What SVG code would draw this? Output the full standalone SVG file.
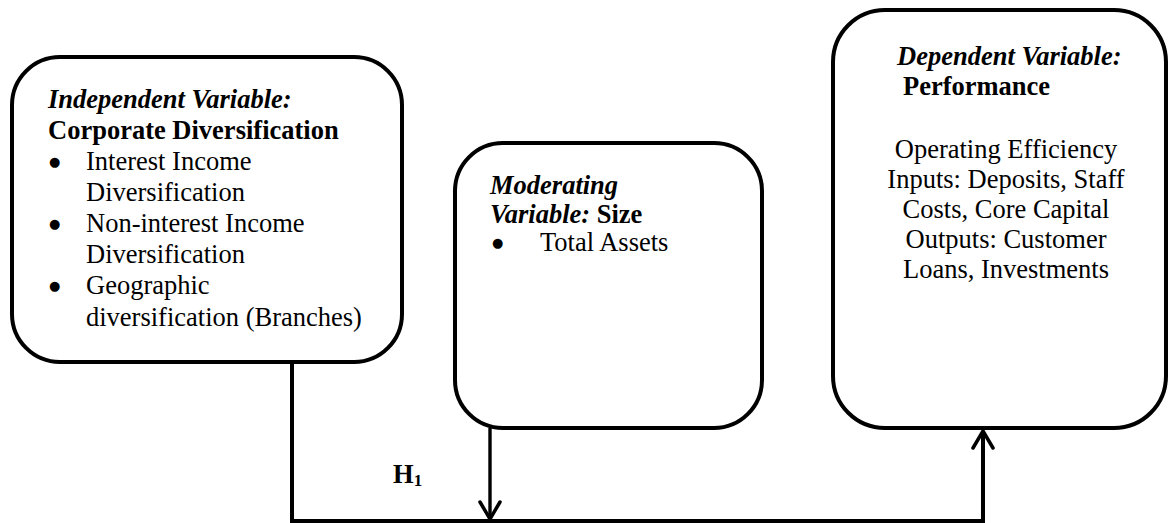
<svg xmlns="http://www.w3.org/2000/svg" width="1170" height="523" viewBox="0 0 1170 523">
<style>
.box{fill:#fff;stroke:#000;stroke-width:4}
.t{font-family:"Liberation Serif","Times New Roman",serif;font-size:26.5px;fill:#000}
.bi{font-weight:bold;font-style:italic}
.b{font-weight:bold}
.c{text-anchor:middle}
.bul{font-family:"DejaVu Sans",sans-serif;font-size:13px;fill:#000}
.con{fill:none;stroke:#000}
</style>
<defs>
<marker id="arr" viewBox="-20 -12 22 24" markerWidth="22" markerHeight="24" refX="0" refY="0" markerUnits="userSpaceOnUse" orient="auto">
<path d="M-17,-10 L0,0 L-17,10" fill="none" stroke="#000" stroke-width="3.5" stroke-linecap="round"/>
</marker>
</defs>
<rect width="1170" height="523" fill="#fff"/>
<g id="connectors">
<path class="con" d="M292,363 V521 H983 V431" stroke-width="4" marker-end="url(#arr)"/>
<path class="con" d="M490,428 V519" stroke-width="3.4" marker-end="url(#arr)"/>
</g>
<g id="independent">
<rect class="box" x="12" y="57" width="390" height="305" rx="48"/>
<text class="t bi" x="48" y="108">Independent Variable:</text>
<text class="t b" x="48" y="139">Corporate Diversification</text>
<text class="bul" x="49" y="166">●</text><text class="t" x="86" y="170">Interest Income</text>
<text class="t" x="86" y="201">Diversification</text>
<text class="bul" x="49" y="228">●</text><text class="t" x="86" y="232">Non-interest Income</text>
<text class="t" x="86" y="263">Diversification</text>
<text class="bul" x="49" y="290">●</text><text class="t" x="86" y="294">Geographic</text>
<text class="t" x="86" y="326">diversification (Branches)</text>
</g>
<g id="moderating">
<rect class="box" x="455" y="143" width="307" height="285" rx="48"/>
<text class="t bi" x="490" y="194">Moderating</text>
<text class="t" x="490" y="223"><tspan class="bi">Variable:</tspan><tspan class="b"> Size</tspan></text>
<text class="bul" x="492" y="247">●</text><text class="t" x="540" y="251">Total Assets</text>
</g>
<g id="dependent">
<rect class="box" x="833" y="10" width="333" height="418" rx="52"/>
<text class="t bi" x="897" y="65">Dependent Variable:</text>
<text class="t b" x="903" y="95">Performance</text>
<text class="t c" x="1006" y="158">Operating Efficiency</text>
<text class="t c" x="1006" y="188">Inputs: Deposits, Staff</text>
<text class="t c" x="1006" y="218">Costs, Core Capital</text>
<text class="t c" x="1006" y="248">Outputs: Customer</text>
<text class="t c" x="1006" y="278">Loans, Investments</text>
</g>
<g id="label-h1">
<text class="t b" x="393" y="483" font-size="26">H<tspan font-size="17" dy="3">1</tspan></text>
</g>
</svg>
